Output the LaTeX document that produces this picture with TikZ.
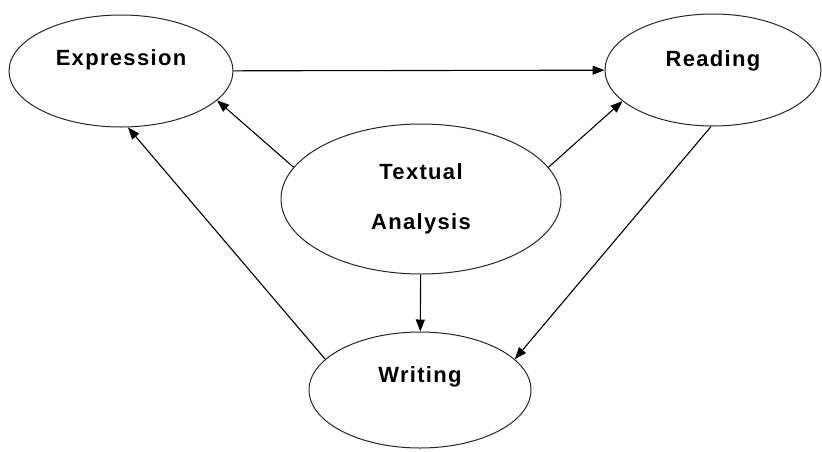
\documentclass[tikz,border=0pt]{standalone}
\usepackage{fontspec}
\setmainfont[LetterSpace=6]{Liberation Sans}
\usetikzlibrary{arrows.meta,shapes.geometric}
\begin{document}
\begin{tikzpicture}[x=1pt,y=1pt,
  etapa/.style={draw=black!85, line width=1pt, ellipse, inner sep=0pt},
  texto/.style={font=\fontsize{22}{50}\selectfont\bfseries},
  flecha/.style={line width=1.1pt, -{Triangle[length=12pt,width=9pt]}}]

\useasboundingbox (0,0) rectangle (822,-451);

% Expression
\node[etapa, minimum width=224pt, minimum height=112pt] (expr) at (121,-71) {};
\node[texto] (exprtxt) at ([yshift=11pt]expr.center) {Expression};

% Reading
\node[etapa, minimum width=216pt, minimum height=112pt] (read) at (713,-70) {};
\node[texto] (readtxt) at ([yshift=9pt]read.center) {Reading};

% Textual Analysis
\node[etapa, texto, align=center, minimum width=280pt, minimum height=150pt] (anal) at (421,-199) {Textual\\Analysis};

% Writing
\node[etapa, minimum width=222pt, minimum height=116pt] (writ) at (420,-390) {};
\node[texto] (writtxt) at ([yshift=13pt]writ.center) {Writing};

% Flechas
\draw[flecha] (expr) -- (read);
\draw[flecha] (anal.166.7) -- (expr.343.5);
\draw[flecha] (anal.14.4) -- (read.199.3);
\draw[flecha] (anal) -- (writ);
\draw[flecha] (read.268) -- (writ.18.3);
\draw[flecha] (writ.162.3) -- (expr.277);

\end{tikzpicture}
\end{document}
